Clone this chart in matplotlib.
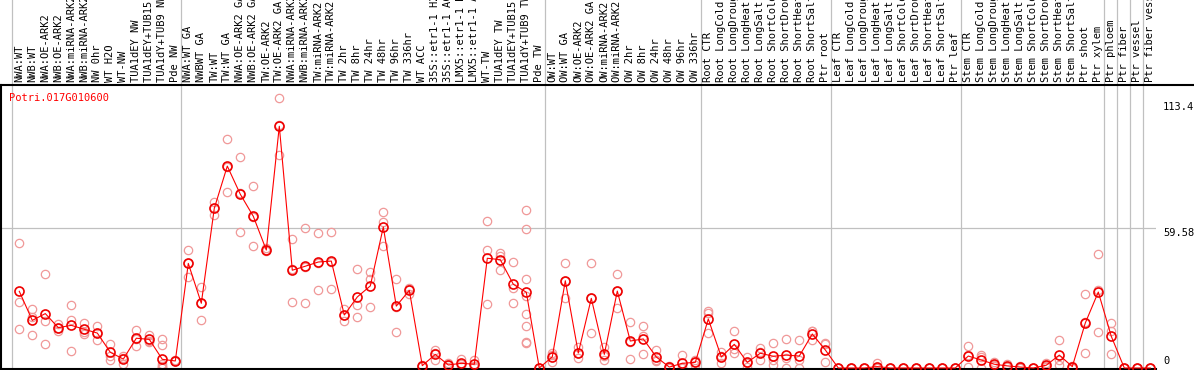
import matplotlib
matplotlib.use('Agg')
import matplotlib.pyplot as plt
import matplotlib.transforms as mtransforms
from matplotlib.lines import Line2D

gene = 'Potri.017G010600'

categories = [
    'NWA:WT', 'NWB:WT', 'NWA:OE-ARK2', 'NWB:OE-ARK2', 'NWA:miRNA-ARK2',
    'NWB:miRNA-ARK2', 'NW 0hr', 'WT H2O', 'WT-NW', 'TUA1dEY NW',
    'TUA1dEY+TUB15 NW', 'TUA1dY+TUB9 NW', 'Pde NW',
    'NWA:WT GA', 'NWBWT GA', 'TW:WT', 'TW:WT GA', 'NWA:OE-ARK2 GA',
    'NWB:OE-ARK2 GA', 'TW:OE-ARK2', 'TW:OE-ARK2 GA', 'NWA:miRNA-ARK2 GA',
    'NWB:miRNA-ARK2 GA', 'TW:miRNA-ARK2', 'TW:miRNA-ARK2 GA', 'TW 2hr',
    'TW 8hr', 'TW 24hr', 'TW 48hr', 'TW 96hr', 'TW 336hr', 'WT ACC',
    '35S::etr1-1 H2O', '35S::etr1-1 ACC', 'LMX5::etr1-1 H2O',
    'LMX5::etr1-1 ACC', 'WT-TW', 'TUA1dEY TW', 'TUA1dEY+TUB15 TW',
    'TUA1dY+TUB9 TW', 'Pde TW',
    'OW:WT', 'OW:WT GA', 'OW:OE-ARK2', 'OW:OE-ARK2 GA', 'OW:miRNA-ARK2',
    'OW:miRNA-ARK2 GA', 'OW 2hr', 'OW 8hr', 'OW 24hr', 'OW 48hr', 'OW 96hr',
    'OW 336hr',
    'Root CTR', 'Root LongCold', 'Root LongDrought', 'Root LongHeat',
    'Root LongSalt', 'Root ShortCold', 'Root ShortDrought', 'Root ShortHeat',
    'Root ShortSalt', 'Ptr root',
    'Leaf CTR', 'Leaf LongCold', 'Leaf LongDrought', 'Leaf LongHeat',
    'Leaf LongSalt', 'Leaf ShortCold', 'Leaf ShortDrought', 'Leaf ShortHeat',
    'Leaf ShortSalt', 'Ptr leaf',
    'Stem CTR', 'Stem LongCold', 'Stem LongDrought', 'Stem LongHeat',
    'Stem LongSalt', 'Stem ShortCold', 'Stem ShortDrought', 'Stem ShortHeat',
    'Stem ShortSalt', 'Ptr shoot', 'Ptr xylem',
    'Ptr phloem', 'Ptr fiber', 'Ptr vessel', 'Ptr fiber vessel',
]

# index of the first category of each sample group
group_starts = [0, 13, 41, 53, 63, 73, 84, 85, 86, 87]

means = [
    32.7, 20.3, 23.2, 17.2, 18.2, 16.5, 14.9, 6.7, 3.8, 12.7, 12.2, 3.7, 3.0,
    44.6, 27.6, 68.1, 86.1, 74.1, 64.7, 50.3, 103.1, 41.7, 43.4, 45.2, 45.6,
    22.6, 30.3, 35.0, 60.1, 26.4, 33.1, 1.0, 5.8, 1.3, 2.0, 1.6, 46.8, 46.2,
    35.7, 32.3, 0.0,
    4.8, 37.2, 6.4, 29.7, 5.8, 32.8, 11.5, 12.4, 4.7, 0.4, 2.0, 2.4,
    20.9, 4.7, 10.1, 2.4, 6.3, 5.0, 5.5, 5.1, 14.5, 7.7,
    0.0, 0.0, 0.0, 0.6, 0.0, 0.0, 0.0, 0.0, 0.0, 0.0,
    5.1, 3.4, 1.6, 0.9, 0.4, 0.0, 1.2, 5.5, 0.6, 19.2, 32.4,
    13.5, 0.0, 0.0, 0.0,
]

replicates = [
    [53.2, 28.0, 16.5], [25.2, 21.8, 13.9], [40.0, 19.9, 10.2],
    [18.9, 17.0, 15.8], [26.9, 20.5, 7.2], [19.3, 15.2, 14.4],
    [17.9, 14.9, 11.9], [10.2, 5.3, 3.4], [5.2, 4.4, 1.8],
    [16.1, 12.5, 9.5], [14.1, 11.5, 11.0], [12.4, 9.7, 1.5, 0.8, 0.3, 0.0],
    [3.2, 3.0, 2.8],
    [50.2, 44.7, 38.9], [34.7, 27.6, 20.5], [70.9, 68.2, 65.2],
    [97.7, 85.7, 74.9], [89.8, 74.5, 58.0], [77.6, 64.6, 51.9],
    [51.0, 50.3, 49.7], [115.0, 103.5, 90.8], [55.0, 42.1, 28.0],
    [59.6, 43.0, 27.6], [57.4, 44.9, 33.3], [58.0, 45.1, 33.7],
    [25.2, 22.4, 20.2], [42.2, 26.7, 21.6], [41.1, 38.0, 26.0],
    [66.5, 62.3, 51.9], [37.8, 26.0, 15.4], [34.3, 33.5, 31.5],
    [1.2, 1.0, 0.8], [7.7, 6.4, 3.3], [2.1, 1.3, 0.5], [3.8, 1.5, 0.7],
    [3.5, 1.0, 0.3], [62.7, 50.2, 27.2], [49.0, 47.9, 41.7],
    [45.1, 34.0, 27.6], [67.2, 59.4, 37.8, 30.8, 23.2, 17.9, 11.2, 10.5],
    [0.0, 0.0, 0.0],
    [6.5, 5.5, 2.7], [44.6, 37.3, 29.7], [9.1, 6.3, 4.1], [44.6, 29.7, 14.8],
    [8.8, 5.2, 3.4], [40.0, 33.0, 25.4], [19.5, 11.3, 3.7],
    [17.8, 13.6, 5.8], [7.7, 3.4, 3.0], [0.8, 0.3, 0.0], [5.5, 0.4, 0.1],
    [3.4, 2.4, 1.4],
    [24.4, 23.3, 14.8], [7.0, 5.1, 2.0], [15.8, 8.2, 6.3], [4.8, 2.0, 0.4],
    [8.4, 7.0, 3.5], [10.5, 3.3, 1.2], [12.2, 4.3, 0.0], [11.9, 3.4, 0.0],
    [15.9, 15.7, 11.9], [10.6, 10.1, 2.4],
    [0.0, 0.0, 0.0], [0.0, 0.0, 0.0], [0.0, 0.0, 0.0], [2.0, 0.0, 0.0],
    [0.0, 0.0, 0.0], [0.0, 0.0, 0.0], [0.0, 0.0, 0.0], [0.0, 0.0, 0.0],
    [0.0, 0.0, 0.0], [0.0, 0.0, 0.0],
    [9.2, 5.5, 0.6], [5.7, 4.5, 0.0], [2.6, 1.2, 1.0], [1.5, 0.9, 0.3],
    [0.8, 0.4, 0.0], [0.0, 0.0, 0.0], [2.0, 1.0, 0.6], [11.8, 3.4, 1.3],
    [1.0, 0.5, 0.2], [31.7, 19.5, 6.4], [48.5, 33.1, 15.2],
    [19.1, 15.9, 6.0], [0.0, 0.0, 0.0], [0.0, 0.0, 0.0], [0.0, 0.0, 0.0],
]

y_marks = [0, 59.58, 113.4]

W, H = 1194, 370
fig = plt.figure(figsize=(W / 100, H / 100), dpi=100)
plt.rcParams['font.family'] = 'DejaVu Sans Mono'

# plot area in pixels: x 1..1156, y 85..369 (from top)
px_l, px_r, px_t, px_b = 1, 1156, 85, 369
ax = fig.add_axes([px_l / W, (H - px_b) / H, (px_r - px_l) / W, (px_b - px_t) / H])
lab = fig.add_axes([px_l / W, (H - px_t) / H, (px_r - px_l) / W, px_t / H], sharex=ax)

x = list(range(len(categories)))
ax.set_xlim((px_l - 19.3) / 13, (px_r - 19.3) / 13)
ax.set_ylim(-(px_b - 368) / 2.345, (368 - px_t) / 2.345)

for s in group_starts:
    ax.axvline(s - 0.6, color='#c0c0c0', lw=0.9, zorder=1)
    lab.axvline(s - 0.6, color='#c0c0c0', lw=0.9, zorder=1)
ax.axhline(y_marks[1], color='#c0c0c0', lw=0.9, zorder=1)

for xi, reps in zip(x, replicates):
    ax.plot([xi] * len(reps), reps, 'o', ms=6, mfc='none', mec='#f09898',
            mew=0.9, zorder=2, clip_on=False)
ax.plot(x, means, '-', color='#ff0000', lw=0.8, zorder=3, clip_on=False)
ax.plot(x, means, 'o', ms=6.5, mfc='none', mec='#ee0000', mew=1.2, zorder=4,
        clip_on=False)

ax.set_xticks([])
ax.set_yticks([])
for side in ['top', 'right']:
    ax.spines[side].set_visible(False)
ax.spines['left'].set_linewidth(1.5)
ax.spines['bottom'].set_linewidth(1.5)
ax.spines['left'].set_color('black')

lab.set_ylim(0, 1)
lab.axis('off')
for xi, name in zip(x, categories):
    lab.text(xi, (px_t - 82) / px_t, name, rotation=90, ha='center', va='bottom',
             fontsize=7.5, color='black', clip_on=True)

fig.add_artist(Line2D([0, 1], [(H - px_t) / H] * 2, color='black', lw=1.5,
                      transform=fig.transFigure))

ax.text(9 / W, (H - 93) / H, gene, transform=fig.transFigure, color='red',
        fontsize=7.5, ha='left', va='top')

tr = mtransforms.blended_transform_factory(ax.transAxes, ax.transData)
xr = (1163 - px_l) / (px_r - px_l)
ax.text(xr, y_marks[2], '113.4', transform=tr, ha='left', va='top', fontsize=7.5)
ax.text(xr, y_marks[1], '59.58', transform=tr, ha='left', va='top', fontsize=7.5)
ax.text(xr, 1.0, '0', transform=tr, ha='left', va='bottom', fontsize=7.5)

fig.savefig('out.png', dpi=100)
